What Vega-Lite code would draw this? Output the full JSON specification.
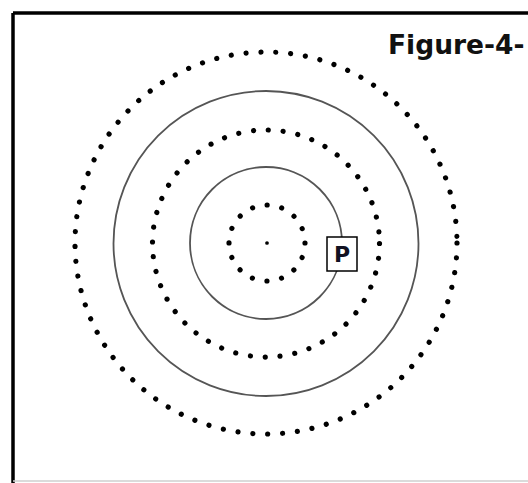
{
  "$schema": "https://vega.github.io/schema/vega-lite/v6.json",
  "autosize": {"type": "none"},
  "width": 528,
  "height": 483,
  "padding": 0,
  "background": "white",
  "config": {"view": {"stroke": null}},
  "datasets": {
    "rings": [
      {"kind": "dotted", "cx": 266, "cy": 243, "r": 191},
      {"kind": "dotted", "cx": 266, "cy": 243.5, "r": 113.5},
      {"kind": "dotted", "cx": 267, "cy": 243, "r": 38},
      {"kind": "solid", "cx": 266, "cy": 243.5, "r": 152.5},
      {"kind": "solid", "cx": 266, "cy": 243, "r": 76}
    ],
    "frame": [
      {"side": "top", "x": 13, "x2": 528, "y": 13, "y2": 13},
      {"side": "left", "x": 13, "x2": 13, "y": 13, "y2": 483}
    ],
    "bottom": [
      {"side": "bottom", "x": 13, "x2": 528, "y": 481, "y2": 481}
    ],
    "center": [{"cx": 267, "cy": 243}],
    "box": [{"x": 327, "x2": 357, "y": 237, "y2": 271, "label": "P", "lx": 342, "ly": 255}],
    "title": [{"x": 388, "y": 54, "label": "Figure-4-"}]
  },
  "layer": [
    {
      "data": {"name": "frame"},
      "mark": {"type": "rule", "stroke": "black", "strokeWidth": 3.5},
      "encoding": {
        "x": {"field": "x", "type": "quantitative", "scale": {"domain": [0, 528], "nice": false, "zero": false}, "axis": null},
        "x2": {"field": "x2"},
        "y": {"field": "y", "type": "quantitative", "scale": {"domain": [0, 483], "nice": false, "zero": false, "reverse": true}, "axis": null},
        "y2": {"field": "y2"}
      }
    },
    {
      "data": {"name": "bottom"},
      "mark": {"type": "rule", "stroke": "#cfcfcf", "strokeWidth": 1.5},
      "encoding": {
        "x": {"field": "x", "type": "quantitative"},
        "x2": {"field": "x2"},
        "y": {"field": "y", "type": "quantitative"},
        "y2": {"field": "y2"}
      }
    },
    {
      "data": {"name": "rings"},
      "transform": [{"filter": "datum.kind === 'dotted'"}],
      "mark": {"type": "point", "shape": "circle", "filled": false, "stroke": "black", "strokeWidth": 5.2, "strokeCap": "round", "strokeDash": [0.01, 14.9], "opacity": 1},
      "encoding": {
        "x": {"field": "cx", "type": "quantitative"},
        "y": {"field": "cy", "type": "quantitative"},
        "size": {"field": "r", "type": "quantitative", "scale": {"type": "pow", "exponent": 2, "domain": [0, 200], "range": [0, 160000]}, "legend": null}
      }
    },
    {
      "data": {"name": "rings"},
      "transform": [{"filter": "datum.kind === 'solid'"}],
      "mark": {"type": "point", "shape": "circle", "filled": false, "stroke": "#555555", "strokeWidth": 1.8, "opacity": 1},
      "encoding": {
        "x": {"field": "cx", "type": "quantitative"},
        "y": {"field": "cy", "type": "quantitative"},
        "size": {"field": "r", "type": "quantitative", "legend": null}
      }
    },
    {
      "data": {"name": "center"},
      "mark": {"type": "point", "shape": "circle", "filled": true, "fill": "black", "size": 14, "opacity": 1},
      "encoding": {
        "x": {"field": "cx", "type": "quantitative"},
        "y": {"field": "cy", "type": "quantitative"}
      }
    },
    {
      "data": {"name": "box"},
      "mark": {"type": "rect", "fill": "white", "stroke": "black", "strokeWidth": 1.5},
      "encoding": {
        "x": {"field": "x", "type": "quantitative"},
        "x2": {"field": "x2"},
        "y": {"field": "y", "type": "quantitative"},
        "y2": {"field": "y2"}
      }
    },
    {
      "data": {"name": "box"},
      "mark": {"type": "text", "font": "DejaVu Sans", "fontWeight": "bold", "fontSize": 22, "align": "center", "baseline": "middle", "fill": "#111122"},
      "encoding": {
        "x": {"field": "lx", "type": "quantitative"},
        "y": {"field": "ly", "type": "quantitative"},
        "text": {"field": "label"}
      }
    },
    {
      "data": {"name": "title"},
      "mark": {"type": "text", "font": "DejaVu Sans", "fontWeight": "bold", "fontSize": 26.5, "align": "left", "baseline": "alphabetic", "fill": "#111111"},
      "encoding": {
        "x": {"field": "x", "type": "quantitative"},
        "y": {"field": "y", "type": "quantitative"},
        "text": {"field": "label"}
      }
    }
  ]
}
